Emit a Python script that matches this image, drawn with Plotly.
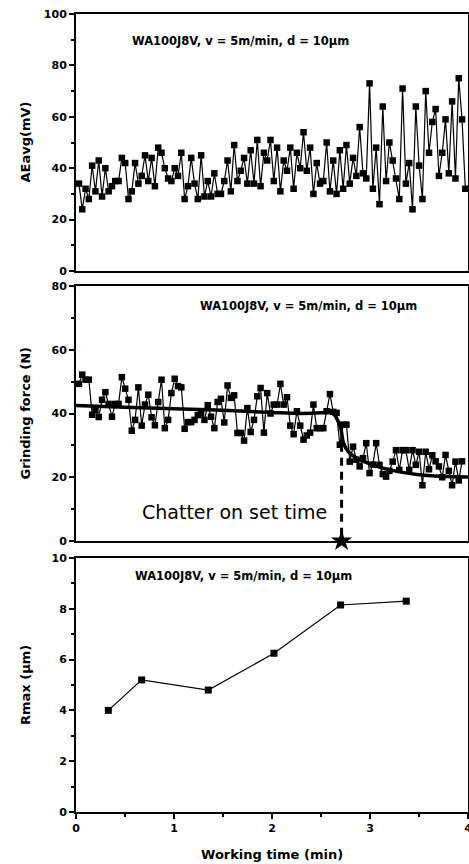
import plotly.graph_objects as go

# ---------------- data ----------------
T0 = 0.03          # first sample time (min)
DT = 0.0337        # sampling step (min)

ae_mv = [34, 24, 32, 28, 41, 31, 43, 29, 40, 31,
         33, 35, 35, 44, 42, 28, 31, 42, 34, 37,
         45, 35, 44, 33, 48, 46, 40, 36, 35, 40,
         37, 46, 28, 33, 44, 34, 28, 45, 29, 35,
         29, 38, 30, 30, 35, 43, 31, 49, 35, 39,
         44, 34, 47, 34, 51, 33, 46, 43, 51, 35,
         48, 31, 43, 39, 48, 32, 46, 40, 54, 39,
         48, 30, 42, 34, 35, 50, 31, 43, 30, 47,
         32, 49, 34, 44, 37, 56, 38, 36, 73, 32,
         48, 26, 64, 35, 50, 43, 36, 28, 71, 34,
         42, 24, 64, 41, 28, 70, 46, 58, 63, 37,
         46, 59, 38, 66, 36, 75, 59, 32]

force_n = [49.3, 52.2, 50.6, 50.6, 39.6, 41, 38.9, 44.3, 46.7, 43,
           39, 43, 43, 51.4, 47.8, 44.3, 34.6, 38, 48.2, 36.2,
           42.8, 45.9, 38.8, 36.3, 43.6, 50.6, 35.4, 38, 46.4, 50.9,
           48.6, 48.2, 35.2, 37.3, 37.3, 38, 39.5, 40,
           38, 42.6, 39, 35.4, 43.6, 44.6, 37.2, 48.8, 44.9, 45.7, 33.9,
           33.9, 31.5, 41.7, 34.2, 38, 45.4, 48, 34, 46.4, 40,
           42.8, 42.8, 49.3, 42.8, 45.1, 36.2, 33.5, 40.7, 36.2, 31.8,
           33.1, 34, 42.8, 35.4, 35.4, 35.4, 40.7, 46.1, 40.5, 40.2,
           30.2, 36.5, 36.5, 24.9, 29.6, 25.5, 23.4, 26, 30.7, 21.3,
           24, 30.7, 23.9, 21, 20.2, 22, 24.9, 28.5, 22.3, 28.5,
           28.5, 22.3, 28.5, 23.9, 28, 17.5, 28, 22.5, 26.9, 25,
           23.4, 20, 27, 22, 17.5, 24.9, 19, 25]

fit_t = [0.0, 0.5, 1.0, 1.5, 2.0, 2.3, 2.5, 2.6, 2.65, 2.7, 2.73, 2.78, 2.85, 3.0, 3.2, 3.5, 3.8, 4.0]
fit_f = [42.5, 42.0, 41.5, 41.0, 40.3, 40.0, 40.2, 40.5, 39.0, 35.5, 30.7, 28.0, 26.3, 24.2, 22.3, 20.8, 20.2, 20.1]

chatter_t = 2.71
chatter_f = 30.5

rmax_t = [0.33, 0.67, 1.35, 2.02, 2.70, 3.37]
rmax_um = [4.0, 5.2, 4.8, 6.25, 8.15, 8.3]

note = "WA100J8V, v = 5m/min, d = 10\u03bcm"

t_ae = [T0 + i * DT for i in range(len(ae_mv))]
t_f = [T0 + i * DT for i in range(len(force_n))]

# ---------------- figure ----------------
FONT = "DejaVu Sans"
fig = go.Figure()

mk = dict(symbol="square", size=6.5, color="black")
ln = dict(color="black", width=1.2)

fig.add_trace(go.Scatter(x=t_ae, y=ae_mv, mode="lines+markers", marker=mk, line=ln,
                         xaxis="x", yaxis="y", showlegend=False))
fig.add_trace(go.Scatter(x=t_f, y=force_n, mode="lines+markers", marker=mk, line=ln,
                         xaxis="x2", yaxis="y2", showlegend=False))
fig.add_trace(go.Scatter(x=fit_t, y=fit_f, mode="lines", line=dict(color="black", width=3.5, shape="spline"),
                         xaxis="x2", yaxis="y2", showlegend=False))
fig.add_trace(go.Scatter(x=[chatter_t, chatter_t], y=[chatter_f, 0], mode="lines",
                         line=dict(color="black", width=3, dash="8px,6px"),
                         xaxis="x2", yaxis="y2", showlegend=False))
fig.add_trace(go.Scatter(x=[chatter_t], y=[0], mode="markers",
                         marker=dict(symbol="star", size=16, color="black"),
                         xaxis="x2", yaxis="y2", showlegend=False, cliponaxis=False))
fig.add_trace(go.Scatter(x=rmax_t, y=rmax_um, mode="lines+markers",
                         marker=dict(symbol="square", size=7, color="black"), line=ln,
                         xaxis="x3", yaxis="y3", showlegend=False))

tickfont = dict(family=FONT, size=11, color="black", weight="bold")
common_x = dict(range=[0, 4], showline=True, linecolor="black", linewidth=1.5, mirror=True,
                showgrid=False, zeroline=False, tickfont=tickfont, automargin=False, fixedrange=True,
                ticklabeloverflow="allow")
common_y = dict(showline=True, linecolor="black", linewidth=2, mirror=True, showgrid=False,
                zeroline=False, ticks="outside", ticklen=5, tickwidth=1.5, tickcolor="black",
                tickfont=tickfont, fixedrange=True, automargin=False)

d1 = [(812 - 271) / 798, 1.0]
d2 = [(812 - 541) / 798, (812 - 286) / 798]
d3 = [0.0, (812 - 558) / 798]

fig.update_layout(
    width=469, height=864,
    margin=dict(l=76, r=1, t=14, b=52),
    paper_bgcolor="white", plot_bgcolor="white",
    xaxis=dict(**common_x, anchor="y", domain=[0, 1], showticklabels=False, ticks=""),
    xaxis2=dict(**common_x, anchor="y2", domain=[0, 1], showticklabels=False, ticks=""),
    xaxis3=dict(**common_x, anchor="y3", domain=[0, 1], ticks="outside", ticklen=5, tickwidth=1.5,
                tickcolor="black", tickmode="array", tickvals=[0, 1, 2, 3, 4],
                minor=dict(dtick=0.5, tick0=0, ticks="outside", ticklen=3, tickcolor="black")),
    yaxis=dict(**common_y, domain=d1, range=[0, 100], dtick=20,
               minor=dict(dtick=10, ticks="outside", ticklen=3, tickcolor="black")),
    yaxis2=dict(**common_y, domain=d2, range=[0, 80], dtick=20,
                minor=dict(dtick=10, ticks="outside", ticklen=3, tickcolor="black")),
    yaxis3=dict(**common_y, domain=d3, range=[0, 10], dtick=2,
                minor=dict(dtick=1, ticks="outside", ticklen=3, tickcolor="black")),
)

ann_font = dict(family=FONT, size=11.5, color="black", weight="bold")
title_font = dict(family=FONT, size=13, color="black", weight="bold")
tx = (25 - 76) / 392

annotations = [
    dict(text=note, x=(130 - 76) / 392, y=(812 - 41) / 798, xref="paper", yref="paper",
         xanchor="left", yanchor="middle", showarrow=False, font=ann_font),
    dict(text=note, x=(198 - 76) / 392, y=(812 - 306) / 798, xref="paper", yref="paper",
         xanchor="left", yanchor="middle", showarrow=False, font=ann_font),
    dict(text=note, x=(133 - 76) / 392, y=(812 - 576) / 798, xref="paper", yref="paper",
         xanchor="left", yanchor="middle", showarrow=False, font=ann_font),
    dict(text="Chatter on set time", x=(329 - 76) / 392, y=(812 - 512) / 798, xref="paper", yref="paper",
         xanchor="right", yanchor="middle", showarrow=False,
         font=dict(family=FONT, size=19, color="black")),
    dict(text="AEavg(mV)", x=tx, y=sum(d1) / 2, xref="paper", yref="paper", textangle=-90,
         xanchor="center", yanchor="middle", showarrow=False, font=title_font),
    dict(text="Grinding force (N)", x=tx, y=sum(d2) / 2, xref="paper", yref="paper", textangle=-90,
         xanchor="center", yanchor="middle", showarrow=False, font=title_font),
    dict(text="Rmax (\u03bcm)", x=tx, y=sum(d3) / 2, xref="paper", yref="paper", textangle=-90,
         xanchor="center", yanchor="middle", showarrow=False, font=title_font),
    dict(text="Working time (min)", x=(272 - 76) / 392, y=-(855 - 812) / 798, xref="paper",
         yref="paper", xanchor="center", yanchor="middle", showarrow=False, font=title_font),
]
fig.update_layout(annotations=annotations)

fig.write_html("out.html", config={"displayModeBar": False},
               post_script="document.body.style.margin='0';document.body.style.overflow='hidden';")
